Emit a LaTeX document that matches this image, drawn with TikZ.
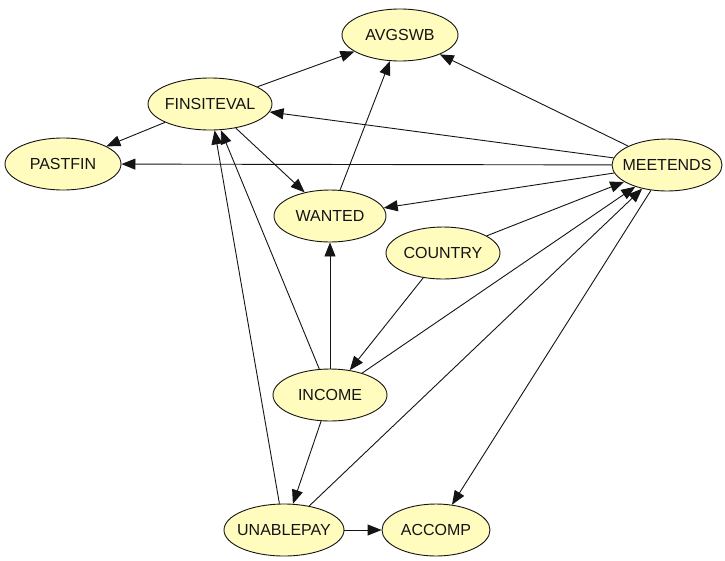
\documentclass[tikz,border=0pt]{standalone}
\usepackage{fontspec}
\setmainfont{Liberation Sans}
\usetikzlibrary{shapes.geometric,arrows.meta}
\definecolor{nodefill}{RGB}{255,252,190}
\definecolor{inkcol}{RGB}{20,20,20}
\begin{document}
\begin{tikzpicture}[x=1pt,y=-1pt,
  bn/.style={ellipse, draw=inkcol, line width=0.9pt, fill=nodefill, inner sep=0pt,
    minimum width=116pt, minimum height=52pt, text=inkcol, font=\fontsize{16}{18}\selectfont},
  link/.style={draw=inkcol, line width=0.9pt, -{Triangle[length=14pt,width=11pt]}}]
\useasboundingbox[fill=white] (0,0) rectangle (725,560);
\node[bn, minimum width=116pt] (avg) at (400,35) {\makebox[0pt]{AVGSWB}};
\node[bn, minimum width=124pt] (fin) at (210,104) {\makebox[0pt]{FINSITEVAL}};
\node[bn, minimum width=116pt] (past) at (63,164) {\makebox[0pt]{PASTFIN}};
\node[bn, minimum width=110pt] (meet) at (667,165) {\makebox[0pt]{MEETENDS}};
\node[bn, minimum width=112pt] (want) at (330,216) {\makebox[0pt]{WANTED}};
\node[bn, minimum width=114pt] (country) at (443,253) {\makebox[0pt]{COUNTRY}};
\node[bn, minimum width=114pt] (inc) at (330,395) {\makebox[0pt]{INCOME}};
\node[bn, minimum width=120pt] (unable) at (284,530) {\makebox[0pt]{UNABLEPAY}};
\node[bn, minimum width=108pt] (acc) at (436,530) {\makebox[0pt]{ACCOMP}};
\draw[link] (fin) -- (avg);
\draw[link] (want) -- (avg);
\draw[link] (meet) -- (avg);
\draw[link] (meet) -- (fin);
\draw[link] (meet) -- (past);
\draw[link] (fin) -- (past);
\draw[link] (fin) -- (want);
\draw[link] (meet) -- (want);
\draw[link] (country) -- (meet);
\draw[link] (country) -- (inc);
\draw[link] (inc) -- (want);
\draw[link] (inc) -- (fin);
\draw[link] (unable) -- (fin);
\draw[link] (inc) -- (meet);
\draw[link] (unable) -- (meet);
\draw[link] (inc) -- (unable);
\draw[link] (unable) -- (acc);
\draw[link] (meet) -- (acc);
\end{tikzpicture}
\end{document}
